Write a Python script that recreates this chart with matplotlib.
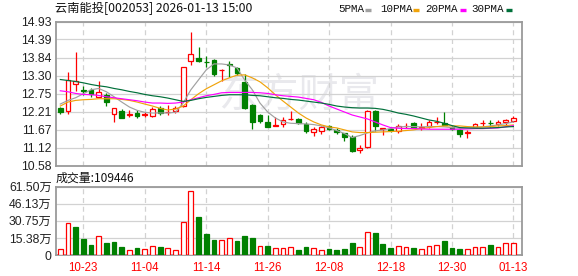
import numpy as np
import matplotlib
matplotlib.use("Agg")
import matplotlib.pyplot as plt
from matplotlib.patches import Rectangle
from matplotlib.lines import Line2D

# ---------------- data ----------------
dates = ["10-20", "10-21", "10-22", "10-23", "10-24", "10-27", "10-28", "10-29", "10-30", "10-31",
         "11-03", "11-04", "11-05", "11-06", "11-07", "11-10", "11-11", "11-12", "11-13", "11-14",
         "11-17", "11-18", "11-19", "11-20", "11-21", "11-24", "11-25", "11-26", "11-27", "11-28",
         "12-01", "12-02", "12-03", "12-04", "12-05", "12-08", "12-09", "12-10", "12-11", "12-12",
         "12-15", "12-16", "12-17", "12-18", "12-19", "12-22", "12-23", "12-24", "12-25", "12-26",
         "12-29", "12-30", "12-31", "01-05", "01-06", "01-07", "01-08", "01-09", "01-12", "01-13"]

opens = [12.33, 12.22, 13.04, 12.86, 12.87, 12.66, 12.71, 12.13, 12.23, 12.12,
         12.18, 12.12, 12.08, 12.33, 12.19, 12.23, 12.38, 13.74, 13.84, 13.71,
         13.77, 13.46, 13.65, 13.52, 13.10, 12.41, 12.11, 11.91, 11.79, 11.84,
         11.98, 11.98, 11.83, 11.59, 11.63, 11.78, 11.66, 11.56, 11.46, 11.05,
         11.15, 12.23, 11.70, 11.68, 11.63, 11.77, 11.86, 11.73, 11.78, 11.90,
         11.86, 11.76, 11.66, 11.56, 11.75, 11.87, 11.88, 11.83, 11.91, 11.94]
highs = [12.35, 13.42, 14.01, 12.98, 12.92, 13.13, 12.76, 12.33, 12.28, 12.25,
         12.25, 12.20, 12.34, 12.38, 12.40, 12.38, 13.55, 14.60, 14.17, 13.89,
         13.81, 13.49, 13.74, 13.57, 13.34, 12.43, 12.15, 12.11, 12.06, 12.04,
         12.24, 12.03, 11.91, 11.74, 11.78, 11.81, 11.71, 11.58, 11.51, 11.20,
         12.25, 12.26, 11.71, 11.74, 11.83, 11.86, 11.91, 11.86, 11.96, 12.04,
         12.21, 11.79, 11.68, 11.66, 11.88, 11.96, 11.96, 11.96, 12.00, 12.09]
lows = [12.13, 12.15, 12.82, 12.71, 12.66, 12.64, 12.39, 11.91, 12.03, 12.06,
        12.03, 12.05, 12.06, 12.12, 12.12, 12.18, 12.34, 13.62, 13.72, 13.57,
        13.30, 13.15, 13.27, 13.32, 12.28, 11.68, 11.86, 11.76, 11.78, 11.76,
        11.96, 11.83, 11.58, 11.49, 11.55, 11.67, 11.53, 11.33, 11.00, 10.97,
        11.12, 11.63, 11.51, 11.59, 11.56, 11.71, 11.71, 11.66, 11.71, 11.83,
        11.81, 11.66, 11.46, 11.43, 11.74, 11.78, 11.75, 11.78, 11.78, 11.91]
closes = [12.21, 13.16, 13.13, 12.84, 12.75, 12.80, 12.50, 12.33, 12.03, 12.13,
          12.09, 12.13, 12.28, 12.18, 12.20, 12.33, 13.55, 13.95, 13.75, 13.70,
          13.35, 13.47, 13.63, 13.37, 12.31, 11.91, 11.92, 11.76, 11.80, 11.96,
          11.99, 11.88, 11.63, 11.68, 11.74, 11.70, 11.59, 11.46, 11.03, 11.12,
          12.23, 11.79, 11.71, 11.66, 11.78, 11.79, 11.73, 11.74, 11.89, 11.91,
          11.81, 11.69, 11.54, 11.61, 11.84, 11.88, 11.87, 11.91, 11.95, 12.03]

ma5 = [12.44, 12.55, 12.63, 12.75, 12.87, 12.91, 12.81, 12.66, 12.50, 12.35,
       12.25, 12.19, 12.17, 12.17, 12.17, 12.19, 12.47, 12.87, 13.17, 13.47,
       13.65, 13.65, 13.62, 13.53, 13.17, 12.87, 12.47, 12.20, 12.02, 11.90,
       11.86, 11.85, 11.84, 11.82, 11.78, 11.72, 11.64, 11.55, 11.43, 11.49,
       11.57, 11.63, 11.66, 11.70, 11.75, 11.76, 11.76, 11.75, 11.76, 11.76,
       11.75, 11.73, 11.71, 11.71, 11.73, 11.75, 11.78, 11.81, 11.85, 11.90]
ma10 = [12.38, 12.50, 12.55, 12.57, 12.58, 12.60, 12.60, 12.60, 12.58, 12.55,
        12.50, 12.44, 12.38, 12.31, 12.26, 12.29, 12.38, 12.57, 12.75, 12.90,
        13.02, 13.14, 13.23, 13.31, 13.32, 13.23, 13.11, 12.93, 12.72, 12.53,
        12.35, 12.17, 12.02, 11.90, 11.81, 11.75, 11.72, 11.66, 11.60, 11.58,
        11.58, 11.59, 11.60, 11.61, 11.62, 11.64, 11.66, 11.70, 11.73, 11.76,
        11.78, 11.78, 11.78, 11.76, 11.75, 11.75, 11.76, 11.78, 11.79, 11.81]
ma20 = [12.84, 12.81, 12.76, 12.73, 12.72, 12.70, 12.66, 12.63, 12.60, 12.57,
        12.54, 12.50, 12.47, 12.47, 12.46, 12.47, 12.50, 12.57, 12.63, 12.69,
        12.73, 12.78, 12.79, 12.79, 12.79, 12.79, 12.78, 12.76, 12.72, 12.69,
        12.67, 12.65, 12.61, 12.57, 12.49, 12.38, 12.29, 12.20, 12.11, 12.05,
        11.99, 11.90, 11.81, 11.73, 11.71, 11.70, 11.70, 11.69, 11.68, 11.68,
        11.68, 11.68, 11.68, 11.69, 11.70, 11.70, 11.71, 11.72, 11.75, 11.79]
ma30 = [13.18, 13.15, 13.12, 13.08, 13.03, 12.99, 12.96, 12.91, 12.87, 12.82,
        12.78, 12.73, 12.69, 12.66, 12.62, 12.57, 12.52, 12.55, 12.60, 12.64,
        12.67, 12.70, 12.72, 12.72, 12.72, 12.70, 12.69, 12.66, 12.63, 12.61,
        12.58, 12.56, 12.53, 12.50, 12.47, 12.43, 12.38, 12.35, 12.33, 12.32,
        12.32, 12.31, 12.28, 12.23, 12.17, 12.13, 12.08, 12.02, 11.96, 11.92,
        11.86, 11.79, 11.73, 11.72, 11.71, 11.71, 11.72, 11.73, 11.75, 11.76]

# volume in 万 (10k lots)
volumes = [5.4, 28.5, 25.2, 14.4, 9.0, 16.8, 10.8, 11.7, 7.2, 4.2,
           6.3, 5.4, 7.8, 7.2, 6.3, 4.2, 29.4, 57.3, 34.2, 18.9,
           13.5, 13.5, 15.0, 12.6, 17.1, 15.3, 7.8, 8.1, 6.3, 6.3,
           6.9, 4.5, 7.2, 6.6, 4.5, 5.4, 4.5, 5.4, 10.8, 7.2,
           20.4, 19.8, 9.9, 6.6, 8.1, 7.5, 6.3, 5.1, 7.8, 8.7,
           12.6, 6.3, 5.4, 5.1, 6.9, 6.9, 8.7, 7.2, 10.5, 10.9446]
# 1 = close above previous close (red), 0 = below (green)
vol_up = [1, 1, 0, 0, 0, 1, 0, 0, 0, 1,
          0, 1, 1, 0, 1, 1, 1, 1, 0, 0,
          0, 1, 1, 0, 0, 0, 1, 0, 1, 1,
          1, 0, 0, 1, 1, 0, 0, 0, 0, 1,
          1, 0, 0, 0, 1, 1, 0, 1, 1, 1,
          0, 0, 0, 1, 1, 1, 0, 1, 1, 1]

price_ticks = [10.58, 11.12, 11.67, 12.21, 12.75, 13.30, 13.84, 14.39, 14.93]
price_labels = ["10.58", "11.12", "11.67", "12.21", "12.75", "13.30", "13.84", "14.39", "14.93"]
vol_ticks = [0, 15.38, 30.75, 46.13, 61.50]
vol_labels = ["0", "15.38万", "30.75万", "46.13万", "61.50万"]
date_tick_idx = [3, 11, 19, 27, 35, 43, 51, 59]
title = "云南能投[002053] 2026-01-13 15:00"
vol_title = "成交量:109446"
legend_names = ["5PMA", "10PMA", "20PMA", "30PMA"]

# ---------------- style ----------------
RED = "#ff0000"
GREEN = "#008000"
MA_COLORS = ["#a0a0a0", "#f0a30a", "#ff00ff", "#00703a"]
SPINE = "#9a9a9a"
GRID = "#d2d2d2"
W, H = 578, 276

plt.rcParams["font.family"] = ["Liberation Sans", "Noto Sans CJK SC", "DejaVu Sans"]

fig = plt.figure(figsize=(W / 100, H / 100), dpi=100)
fig.patch.set_facecolor("white")


def fx(px):
    return px / W


def fy(py):
    return 1 - py / H


ax = fig.add_axes([fx(56), fy(165.7), fx(522) - fx(56), fy(21.5) - fy(165.7)])
axv = fig.add_axes([fx(56), fy(255), fx(522) - fx(56), fy(186.7) - fy(255)])

n = len(closes)
x = np.arange(n)
xlim = (-0.56, 60.12)
bw = 0.62

# watermark
ax.text(31.0, 12.72, "东方财富", fontsize=29, color="#e9e9ed",
        family=["Noto Sans CJK SC"], fontweight="medium",
        ha="center", va="center", zorder=0)

# candles
for i in range(n):
    o, h, l, c = opens[i], highs[i], lows[i], closes[i]
    up = c >= o
    col = RED if up else GREEN
    ax.vlines(i, l, h, color=col, lw=0.9, zorder=2)
    bot = min(o, c)
    hgt = max(abs(c - o), 0.0001)
    ax.add_patch(Rectangle((i - bw / 2, bot), bw, hgt,
                           facecolor="white" if up else GREEN,
                           edgecolor=col, lw=0.9, zorder=3))

# moving averages
for ma, colr in zip([ma5, ma10, ma20, ma30], MA_COLORS):
    ax.plot(x, ma, color=colr, lw=0.85, zorder=4)

ax.set_xlim(*xlim)
ax.set_ylim(price_ticks[0], price_ticks[-1])
ax.set_yticks(price_ticks)
ax.set_yticklabels(price_labels)
ax.set_xticks(date_tick_idx)
ax.set_xticklabels([])
ax.tick_params(length=0, labelsize=8.8, colors="#222222", pad=3)
ax.grid(axis="y", color=GRID, lw=0.9, zorder=1)
ax.grid(axis="x", color=GRID, lw=0.9, ls=(0, (4, 3)), zorder=1)
ax.set_axisbelow(True)

# volume
for i in range(n):
    up = vol_up[i] == 1
    col = RED if up else GREEN
    axv.add_patch(Rectangle((i - bw / 2, 0), bw, volumes[i],
                            facecolor="white" if up else GREEN,
                            edgecolor=col, lw=0.9, zorder=3))
axv.set_xlim(*xlim)
axv.set_ylim(vol_ticks[0], vol_ticks[-1])
axv.set_yticks(vol_ticks)
axv.set_yticklabels(vol_labels)
axv.set_xticks(date_tick_idx)
axv.set_xticklabels([dates[k] for k in date_tick_idx])
axv.tick_params(axis="y", length=0, labelsize=8.8, colors="#222222", pad=3)
axv.tick_params(axis="x", length=0, labelsize=8.3, colors=RED, pad=5)
axv.grid(axis="y", color=GRID, lw=0.9, zorder=1)
axv.grid(axis="x", color=GRID, lw=0.9, ls=(0, (4, 3)), zorder=1)
axv.set_axisbelow(True)

for a in (ax, axv):
    for s in a.spines.values():
        s.set_color(SPINE)
        s.set_linewidth(1.3)

# title texts
fig.text(fx(55), fy(9), title, fontsize=8.8, color="#111111", va="center", ha="left",
         family=["Noto Sans CJK SC", "DejaVu Sans"])
fig.text(fx(56), fy(178), vol_title, fontsize=8.6, color="#111111", va="center", ha="left",
         family=["Noto Sans CJK SC", "DejaVu Sans"])

# legend
leg_x = [338, 380, 425.7, 471.7]
mk_x = [365, 413, 460, 505.5]
for name, lx, mx, colr in zip(legend_names, leg_x, mk_x, MA_COLORS):
    fig.text(fx(lx), fy(9.3), name, fontsize=7.8, color="#111111", va="center", ha="left",
             family=["Liberation Mono"])
    fig.add_artist(Line2D([fx(mx), fx(mx + 6)], [fy(9.5), fy(9.5)], color=colr, lw=2.4,
                          solid_capstyle="butt"))

fig.savefig("out.png", dpi=100, facecolor="white")
